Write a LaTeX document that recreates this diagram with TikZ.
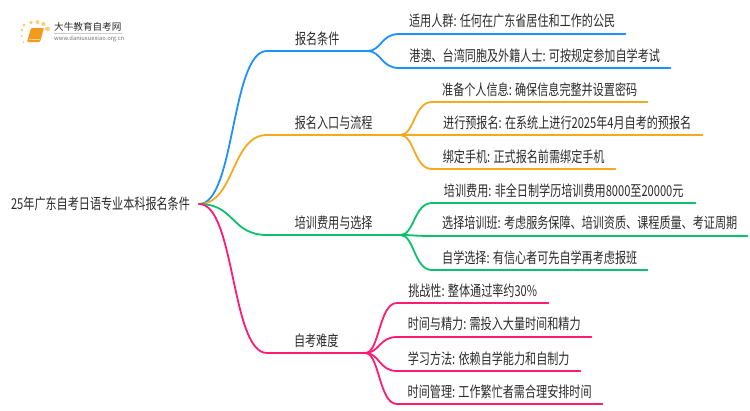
\documentclass[tikz,border=0pt]{standalone}
\usepackage{fontspec}
\setmainfont[FakeStretch=0.74]{Noto Sans CJK SC}
\newfontfamily\logofont{Noto Sans CJK SC}
\usetikzlibrary{positioning}
\definecolor{txtcol}{HTML}{2B2B2B}
\definecolor{bluecol}{HTML}{1E90FF}
\definecolor{orangecol}{HTML}{F5A91E}
\definecolor{greencol}{HTML}{0CC16E}
\definecolor{pinkcol}{HTML}{FF1A75}
\definecolor{dotcol}{HTML}{FAD07A}
\definecolor{bookcol}{HTML}{F39A1E}
\tikzset{
    topic/.style={anchor=south west,inner sep=0pt,minimum height=25pt,text=txtcol,font=\fontsize{15}{17}\selectfont},
    link/.style={line width=1.8pt,line cap=round}
}
\begin{document}
\begin{tikzpicture}[x=1pt,y=-1pt]
        \useasboundingbox (0,0) rectangle (750,410);
        \fill[white] (0,0) rectangle (750,410);
        % logo
        \foreach \dx/\dy/\rad in {24/25/1.6,31/22.5/1.9,37.5/22/2,43.5/24/2.1,47.5/29/2.4,22/30/1.3,22/36/1.2,23.5/42/1}
            \fill[dotcol] (\dx,\dy) circle (\rad);
        \fill[bookcol,rounded corners=1pt] (27,42)--(31,28)--(44,28)--(40,42)--cycle;
        \draw[dotcol,thick] (29,39.5)--(40,39.5);
        \node[inner sep=0pt,anchor=west,text=txtcol,font=\logofont\fontsize{9.6}{12}\selectfont] (logoname) at (54,27) {大牛教育自考网};
        \draw[black!20] (54,33.5)--(122,33.5);
        \node[inner sep=0pt,anchor=west,text=black!55,font=\logofont\fontsize{5.8}{8}\selectfont] (logourl) at (54,39) {www.daniuxuexiao.org.cn};
        % root
        \node[inner sep=9pt,text=txtcol,font=\fontsize{15}{17}\selectfont] (root) at (100.5,204) {25年广东自考日语专业本科报名条件};
        % branches
        \node[topic,minimum width=100pt] (cond) at (267,51) {报名条件};
        \node[topic,minimum width=133pt] (entry) at (267,135) {报名入口与流程};
        \node[topic,minimum width=133pt] (fee) at (267,235) {培训费用与选择};
        \node[topic,minimum width=98pt] (hard) at (267,353) {自考难度};
        % leaves
        \node[topic,minimum width=226pt] (cond1) at (399,34) {适用人群: 任何在广东省居住和工作的公民};
        \node[topic,minimum width=271pt] (cond2) at (399,68) {港澳、台湾同胞及外籍人士: 可按规定参加自学考试};
        \node[topic,minimum width=215pt] (entry1) at (432,102) {准备个人信息: 确保信息完整并设置密码};
        \node[topic,minimum width=270pt] (entry2) at (432,135) {进行预报名: 在系统上进行2025年4月自考的预报名};
        \node[topic,minimum width=183pt] (entry3) at (432,169) {绑定手机: 正式报名前需绑定手机};
        \node[topic,minimum width=263pt] (fee1) at (432,203) {培训费用: 非全日制学历培训费用8000至20000元};
        \node[topic,minimum width=315pt] (fee2) at (432,236) {选择培训班: 考虑服务保障、培训资质、课程质量、考证周期};
        \node[topic,minimum width=215pt] (fee3) at (432,270) {自学选择: 有信心者可先自学再考虑报班};
        \node[topic,minimum width=151pt] (hard1) at (397,303) {挑战性: 整体通过率约30\%};
        \node[topic,minimum width=194pt] (hard2) at (397,337) {时间与精力: 需投入大量时间和精力};
        \node[topic,minimum width=183pt] (hard3) at (397,371) {学习方法: 依赖自学能力和自制力};
        \node[topic,minimum width=205pt] (hard4) at (397,404) {时间管理: 工作繁忙者需合理安排时间};
        % connectors
        \foreach \top/\col/\subs in {cond/bluecol/{cond1,cond2},entry/orangecol/{entry1,entry2,entry3},fee/greencol/{fee1,fee2,fee3},hard/pinkcol/{hard1,hard2,hard3,hard4}}{
            \draw[link,\col] (root.east) .. controls +(36,0) and +(-36,0) .. (\top.south west) -- (\top.south east);
            \foreach \sub in \subs
                \draw[link,\col] (\top.south east) .. controls +(14,0) and +(-18,0) .. (\sub.south west) -- (\sub.south east);
        }
\end{tikzpicture}
\end{document}
